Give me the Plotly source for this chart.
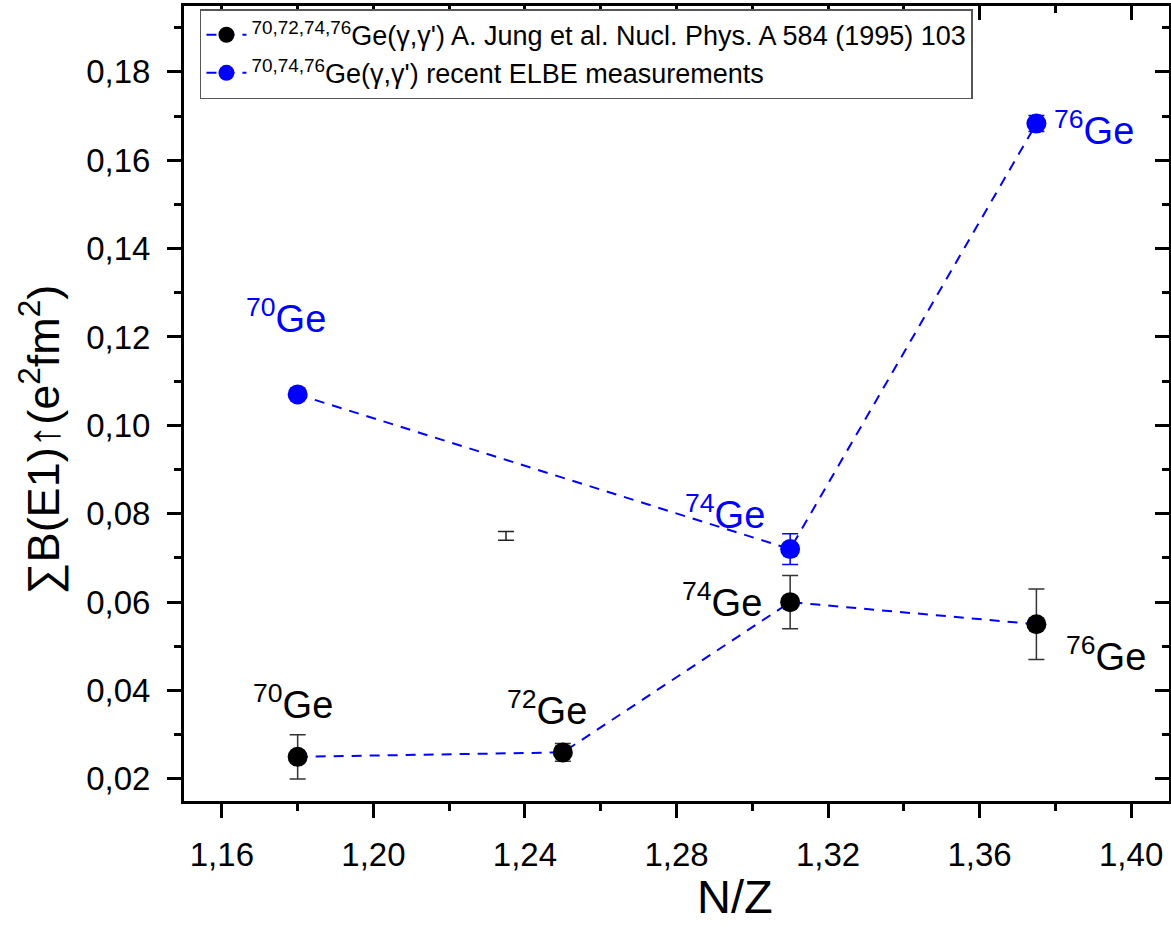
import plotly.graph_objects as go

# Data
nz_jung = [1.18, 1.25, 1.31, 1.375]
b_jung = [0.025, 0.026, 0.060, 0.055]
err_jung = [0.005, 0.002, 0.006, 0.008]

nz_elbe = [1.18, 1.31, 1.375]
b_elbe = [0.107, 0.072, 0.1683]
err_elbe = [0.0008, 0.0035, 0.0018]

nz_extra = [1.235]
b_extra = [0.075]
err_extra = [0.001]

lab_jung = ["<sup>70</sup>Ge", "<sup>72</sup>Ge", "<sup>74</sup>Ge", "<sup>76</sup>Ge"]
lab_jung_x = [1.1787, 1.2457, 1.2921, 1.3934]
lab_jung_y = [0.0374, 0.0361, 0.0605, 0.0483]

lab_elbe = ["<sup>70</sup>Ge", "<sup>74</sup>Ge", "<sup>76</sup>Ge"]
lab_elbe_x = [1.1769, 1.2929, 1.3902]
lab_elbe_y = [0.1247, 0.0804, 0.1673]

x_title = "N/Z"
y_title = "∑B(E1)↑(e<sup>2</sup>fm<sup>2</sup>)"

FONT = "Liberation Sans"
BLUE = "#0000ff"

fig = go.Figure()

fig.add_trace(go.Scatter(
    x=nz_extra, y=b_extra, mode="markers",
    marker=dict(size=2, color="black", opacity=0),
    error_y=dict(type="data", array=err_extra, color="#222222", thickness=1.5, width=8),
    showlegend=False, hoverinfo="skip"))

fig.add_trace(go.Scatter(
    x=nz_jung, y=b_jung, mode="lines+markers",
    name="<sup>70,72,74,76</sup>Ge(γ,γ') A. Jung et al. Nucl. Phys. A 584 (1995) 103",
    line=dict(color=BLUE, width=2, dash="10px,8px"),
    marker=dict(size=20, color="black"),
    error_y=dict(type="data", array=err_jung, color="#333333", thickness=1.5, width=8)))

fig.add_trace(go.Scatter(
    x=nz_elbe, y=b_elbe, mode="lines+markers",
    name="<sup>70,74,76</sup>Ge(γ,γ') recent ELBE measurements",
    line=dict(color=BLUE, width=2, dash="10px,8px"),
    marker=dict(size=20, color=BLUE),
    error_y=dict(type="data", array=err_elbe, color=BLUE, thickness=1.5, width=8)))

# invisible trace on mirrored axes
fig.add_trace(go.Scatter(x=[1.2], y=[0.1], xaxis="x2", yaxis="y2", mode="markers",
                         marker=dict(opacity=0), showlegend=False, hoverinfo="skip"))

for t, x, y in zip(lab_jung, lab_jung_x, lab_jung_y):
    fig.add_annotation(x=x, y=y, text=t, showarrow=False,
                       font=dict(family=FONT, size=38, color="black"))
for t, x, y in zip(lab_elbe, lab_elbe_x, lab_elbe_y):
    fig.add_annotation(x=x, y=y, text=t, showarrow=False,
                       font=dict(family=FONT, size=38, color=BLUE))

# axis titles (offset like the reference)
fig.add_annotation(xref="paper", yref="paper", x=0.559, y=-0.1195, text=x_title,
                   showarrow=False, xanchor="center", yanchor="middle",
                   font=dict(family=FONT, size=47, color="black"))
fig.add_annotation(xref="paper", yref="paper", x=-0.146, y=0.455, text=y_title,
                   showarrow=False, xanchor="center", yanchor="middle", textangle=-90,
                   font=dict(family=FONT, size=45, color="black"))

XR = [1.15, 1.41]
YR = [0.015, 0.1949]

fig.update_layout(
    width=1171, height=927,
    margin=dict(l=184, r=2, t=6, b=126),
    paper_bgcolor="white", plot_bgcolor="white",
    separators=",.",
    font=dict(family=FONT, color="black"),
    xaxis=dict(range=XR, tickmode="linear", tick0=1.16, dtick=0.04, tickformat=".2f",
               showgrid=False, zeroline=False, showline=True, linewidth=3, linecolor="black",
               ticks="outside", ticklen=14, tickwidth=2.5, tickcolor="black",
               tickfont=dict(size=33, family=FONT), ticklabelstandoff=8,
               minor=dict(ticks="outside", ticklen=7, tickwidth=2.5, dtick=0.02, tick0=1.16, tickcolor="black")),
    yaxis=dict(range=YR, tickmode="linear", tick0=0.02, dtick=0.02, tickformat=".2f",
               showgrid=False, zeroline=False, showline=True, linewidth=3, linecolor="black",
               ticks="outside", ticklen=14, tickwidth=2.5, tickcolor="black",
               tickfont=dict(size=33, family=FONT), ticklabelstandoff=10,
               minor=dict(ticks="outside", ticklen=7, tickwidth=2.5, dtick=0.01, tick0=0.02, tickcolor="black")),
    xaxis2=dict(range=XR, overlaying="x", side="top", tickmode="linear", tick0=1.16, dtick=0.04,
                showticklabels=False, showgrid=False, zeroline=False, showline=True, linewidth=3,
                linecolor="black", ticks="inside", ticklen=14, tickwidth=2.5, tickcolor="black",
                minor=dict(ticks="inside", ticklen=7, tickwidth=2.5, dtick=0.02, tick0=1.16, tickcolor="black")),
    yaxis2=dict(range=YR, overlaying="y", side="right", tickmode="linear", tick0=0.02, dtick=0.02,
                showticklabels=False, showgrid=False, zeroline=False, showline=True, linewidth=3,
                linecolor="black", ticks="inside", ticklen=14, tickwidth=2.5, tickcolor="black",
                minor=dict(ticks="inside", ticklen=7, tickwidth=2.5, dtick=0.01, tick0=0.02, tickcolor="black")),
    legend=dict(x=0.0162, y=0.996, xanchor="left", yanchor="top",
                bgcolor="white", bordercolor="#555555", borderwidth=1.5,
                font=dict(size=27, family=FONT, color="black"), itemwidth=40),
    showlegend=True,
)

fig.write_html("out.html")
